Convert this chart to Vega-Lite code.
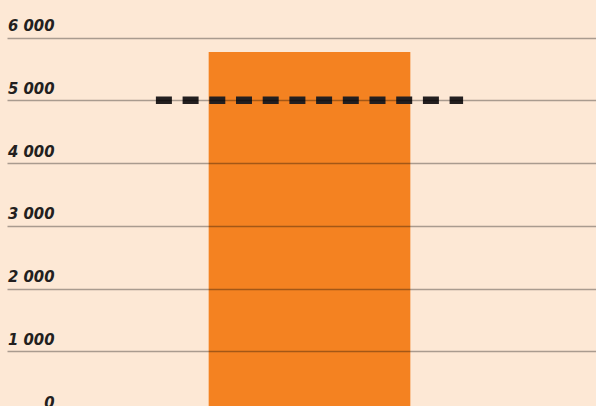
{
  "$schema": "https://vega.github.io/schema/vega-lite/v6.json",
  "width": 589,
  "height": 406,
  "autosize": {"type": "none"},
  "padding": {"left": 7, "top": 0, "right": 0, "bottom": 0},
  "background": "#fde8d5",
  "config": {"view": {"stroke": null}},
  "data": {"values": [{"category": "A", "value": 5770, "target": 5000}]},
  "encoding": {
    "x": {
      "field": "category",
      "type": "nominal",
      "axis": null,
      "scale": {"range": [0, 605], "paddingInner": 0, "paddingOuter": 1.02}
    }
  },
  "layer": [
    {
      "mark": {"type": "bar", "color": "#f48221"},
      "encoding": {
        "y": {
          "field": "value",
          "type": "quantitative",
          "scale": {"domain": [0, 6600], "range": [414, 0], "nice": false, "zero": true},
          "axis": {
            "values": [0, 1000, 2000, 3000, 4000, 5000, 6000],
            "title": null,
            "domain": false,
            "ticks": false,
            "grid": true,
            "gridColor": "#000000",
            "gridOpacity": 0.33,
            "gridWidth": 1.3,
            "zindex": 1,
            "labelAlign": "right",
            "labelBaseline": "alphabetic",
            "labelPadding": -47,
            "labelOffset": -7,
            "labelFlush": false,
            "labelOverlap": false,
            "labelFont": "DejaVu Sans Condensed, sans-serif",
            "labelFontSize": 16.5,
            "labelFontStyle": "italic",
            "labelFontWeight": "bold",
            "labelColor": "#231f20",
            "labelExpr": "replace(format(datum.value, ',d'), ',', ' ')"
          }
        }
      }
    },
    {
      "mark": {
        "type": "rule",
        "color": "#231f20",
        "strokeWidth": 7.5,
        "strokeDash": [16, 10.7],
        "strokeCap": "butt",
        "xOffset": -153.6,
        "x2Offset": 153.6
      },
      "encoding": {
        "x2": {"field": "category"},
        "y": {"field": "target", "type": "quantitative"}
      }
    }
  ]
}
